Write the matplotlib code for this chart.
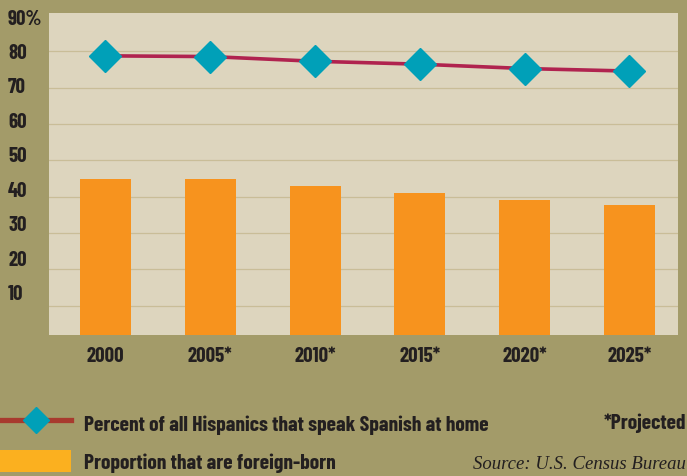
import numpy as np
import matplotlib
matplotlib.use("Agg")
import matplotlib.pyplot as plt
from matplotlib.lines import Line2D
from matplotlib.patches import Patch

years = ["2000", "2005*", "2010*", "2015*", "2020*", "2025*"]
spanish_at_home = [78.8, 78.6, 77.3, 76.5, 75.3, 74.6]
foreign_born = [44.9, 44.9, 43.0, 41.0, 39.1, 37.7]
ytick_vals = [10, 20, 30, 40, 50, 60, 70, 80, 90]
ytick_labels = ["10", "20", "30", "40", "50", "60", "70", "80", "90%"]

bg = "#A39B69"
panel = "#DDD5BE"
grid_c = "#C9BD98"
bar_c = "#F7931E"
line_c = "#B0234F"
mark_c = "#00A0B8"
txt_c = "#231F20"
cond = ["Barlow Condensed", "DejaVu Sans"]
lab_font = {"family": cond, "stretch": "condensed", "weight": "bold", "size": 15}
leg_font = dict(lab_font, size=15.5)

fig = plt.figure(figsize=(6.87, 4.77), dpi=100, facecolor=bg)
ax = fig.add_axes([49/687, 1-336/477, 629/687, 322/477])
ax.set_facecolor(panel)

x = np.arange(len(years))
ax.bar(x, foreign_born, width=0.487, color=bar_c, zorder=2)
ax.plot(x, spanish_at_home, color=line_c, lw=2.6, zorder=3)
ax.plot(x, spanish_at_home, ls="none", marker="D", ms=16, color=mark_c, zorder=4)

ax.set_xlim(-0.539, 5.463)
ax.set_ylim(1.9, 90.6)
ax.set_yticks(ytick_vals[:-1])
ax.yaxis.grid(True, color=grid_c, lw=0.9, zorder=1)
ax.tick_params(axis="y", length=0, labelleft=False)
ax.set_xticks(x)
ax.set_xticklabels(years, color=txt_c, **lab_font)
ax.tick_params(axis="x", length=0, pad=8)
for s in ax.spines.values():
    s.set_visible(False)

# labels on the left are spaced a little tighter than the gridlines
sec = ax.secondary_yaxis("left", functions=(lambda g: (g - 4.27) / 0.95,
                                            lambda s: 4.27 + 0.95 * s))
sec.set_yticks(ytick_vals)
sec.set_yticklabels(ytick_labels, color=txt_c, **lab_font)
sec.tick_params(length=0, pad=29.5)
for lab in sec.get_yticklabels():
    lab.set_ha("left")
sec.spines["left"].set_visible(False)

handles = [Line2D([], [], color="#A83A2E", lw=3.8, marker="D", ms=13, markerfacecolor=mark_c,
                  markeredgecolor=mark_c),
           Patch(color="#FBB01F", lw=0)]
labels = ["Percent of all Hispanics that speak Spanish at home", "Proportion that are foreign-born"]
fig.legend(handles, labels, loc="lower left", bbox_to_anchor=(0, 4/477), frameon=False,
           borderpad=0, borderaxespad=0, handlelength=3.3, handleheight=1.2,
           handletextpad=0.6, labelspacing=0.75,
           prop=leg_font, labelcolor=txt_c)

fig.text(686/687, 1-423/477, "*Projected", ha="right", va="center", color=txt_c, **leg_font)
fig.text(686/687, 1-465/477, "Source: U.S. Census Bureau", ha="right", va="center",
         family=["Liberation Serif", "DejaVu Serif"], style="italic", fontsize=13.5, color=txt_c)

fig.savefig("out.png", dpi=100, facecolor=bg)
